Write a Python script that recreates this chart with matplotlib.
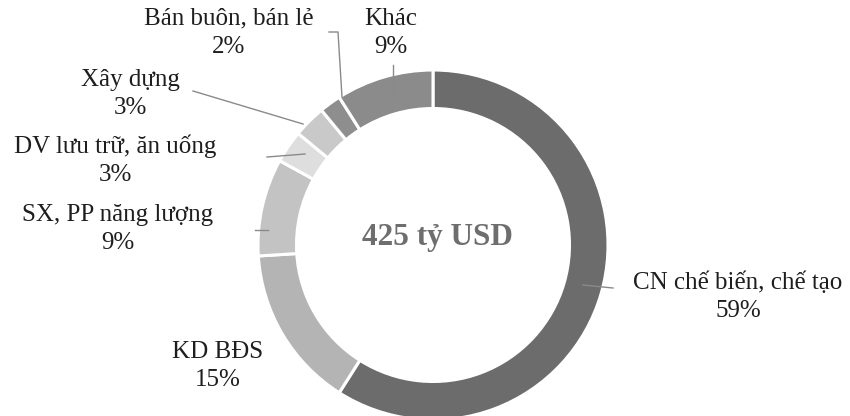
import numpy as np
import matplotlib
matplotlib.use('Agg')
import matplotlib.pyplot as plt

# clockwise from 12 o'clock
sectors = ['CN chế biến, chế tạo', 'KD BĐS', 'SX, PP năng lượng', 'DV lưu trữ, ăn uống',
           'Xây dựng', 'Bán buôn, bán lẻ', 'Khác']
shares = [59, 15, 9, 3, 3, 2, 9]
colors = ['#6c6c6c', '#b4b4b4', '#c3c3c3', '#dedede', '#c9c9c9', '#8e8e8e', '#8b8b8b']
total_text = '425 tỷ USD'

W, H = 850, 416
# label centres in picture pixels (x, y from top)
label_pos = [(738, 297), (218, 366), (118, 229), (115, 160), (130, 94), (229, 33), (391, 33)]

plt.rcParams['font.family'] = ['Liberation Serif', 'DejaVu Serif']

fig = plt.figure(figsize=(8.5, 4.16), dpi=100)
ax = fig.add_axes([0, 0, 1, 1])

cx, cy, R = 433, H - 245, 175
wedges, _ = ax.pie(shares, colors=colors, startangle=90, counterclock=False,
                   center=(cx, cy), radius=R, frame=True,
                   wedgeprops=dict(width=R * 0.22, edgecolor='white', linewidth=2.2))
ax.set_xlim(0, W)
ax.set_ylim(0, H)
ax.set_aspect('equal')
ax.axis('off')

for name, val, (lx, ly) in zip(sectors, shares, label_pos):
    ax.text(lx, H - ly, '%s\n%d%%' % (name, val), ha='center', va='center',
            fontsize=18, color='#1e1e1e', linespacing=1.38)

ax.text(cx + 4, cy + 8, total_text, ha='center', va='center', fontsize=22.5,
        fontweight='bold', color='#6e6e6e')

# leader lines (picture pixels)
leaders = [
    [(583, 285), (613, 288)],
    [(329, 32), (338, 32), (342, 97)],
    [(393, 65), (393, 95)],
    [(193, 91), (303, 124)],
    [(267, 157), (305, 154)],
    [(255, 230), (268, 230)],
]
for pts in leaders:
    xs = [p[0] for p in pts]
    ys = [H - p[1] for p in pts]
    ax.plot(xs, ys, color='#8a8a8a', lw=1.0)

fig.savefig('out.png', dpi=100, facecolor='white')
